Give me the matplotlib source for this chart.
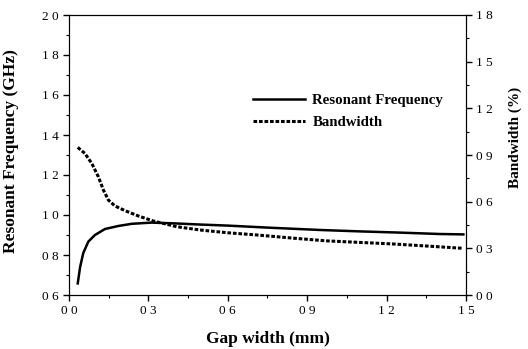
import numpy as np
import matplotlib.pyplot as plt
from matplotlib.ticker import MultipleLocator, FuncFormatter

plt.rcParams["font.family"] = ["Liberation Serif", "DejaVu Serif"]

# ------------------------------------------------------------
# data
# ------------------------------------------------------------
gap_freq = [0.033, 0.042, 0.054, 0.073, 0.098, 0.136, 0.186, 0.237, 0.312,
            0.4, 0.5, 0.6, 0.75, 0.95, 1.1, 1.25, 1.4, 1.49]
res_freq = [0.658, 0.74, 0.81, 0.867, 0.90, 0.93, 0.945, 0.956, 0.962,
            0.958, 0.952, 0.947, 0.937, 0.925, 0.918, 0.912, 0.905, 0.903]

gap_bw = [0.033, 0.06, 0.086, 0.111, 0.13, 0.149, 0.174, 0.212, 0.262, 0.318,
          0.407, 0.495, 0.6, 0.709, 0.85, 0.973, 1.1, 1.225, 1.35, 1.49]
bandwidth = [0.949, 0.91, 0.846, 0.76, 0.675, 0.61, 0.572, 0.542, 0.508, 0.476,
             0.439, 0.418, 0.40, 0.386, 0.365, 0.348, 0.338, 0.328, 0.315, 0.30]


def spaced(v, pos):
    return f"{v:.1f}".replace(".", " ")


fig = plt.figure(figsize=(5.28, 3.49), dpi=100)
ax = fig.add_axes([69 / 528, 54 / 349, 397 / 528, 280 / 349])
ax2 = ax.twinx()

l1, = ax.plot(gap_freq, res_freq, color="black", lw=1.8, label="Resonant Frequency")
l2, = ax2.plot(gap_bw, bandwidth, color="black", lw=2.2, ls=(0, (1.2, 0.6)),
               label="Bandwidth")

ax.set_xlim(0, 1.5)
ax.set_ylim(0.6, 2.0)
ax2.set_ylim(0, 1.8)

ax.xaxis.set_major_locator(MultipleLocator(0.3))
ax.xaxis.set_minor_locator(MultipleLocator(0.15))
ax.yaxis.set_major_locator(MultipleLocator(0.2))
ax.yaxis.set_minor_locator(MultipleLocator(0.1))
ax2.yaxis.set_major_locator(MultipleLocator(0.3))
ax2.yaxis.set_minor_locator(MultipleLocator(0.15))

for a in (ax, ax2):
    a.tick_params(which="major", direction="out", length=4, width=1, labelsize=9.5)
    a.tick_params(which="minor", direction="out", length=2, width=0.8)
ax.xaxis.set_major_formatter(FuncFormatter(spaced))
ax.yaxis.set_major_formatter(FuncFormatter(spaced))
ax2.yaxis.set_major_formatter(FuncFormatter(spaced))

ax.set_xlabel("Gap width (mm)", fontsize=12.5, fontweight="bold")
ax.xaxis.set_label_coords(0.5, -0.13)
ax.set_ylabel("Resonant Frequency (GHz)", fontsize=12.5, fontweight="bold")
ax.yaxis.set_label_coords(-0.126, 0.515)
ax2.set_ylabel("Bandwidth (%)", fontsize=11, fontweight="bold")
ax2.yaxis.set_label_coords(1.108, 0.564)

ax.legend(handles=[l1, l2], loc="upper left", bbox_to_anchor=(0.431, 0.768),
          frameon=False, prop={"weight": "bold", "size": 10.7},
          handlelength=3.5, handletextpad=0.47, labelspacing=0.6)

fig.savefig("out.png", dpi=100)
